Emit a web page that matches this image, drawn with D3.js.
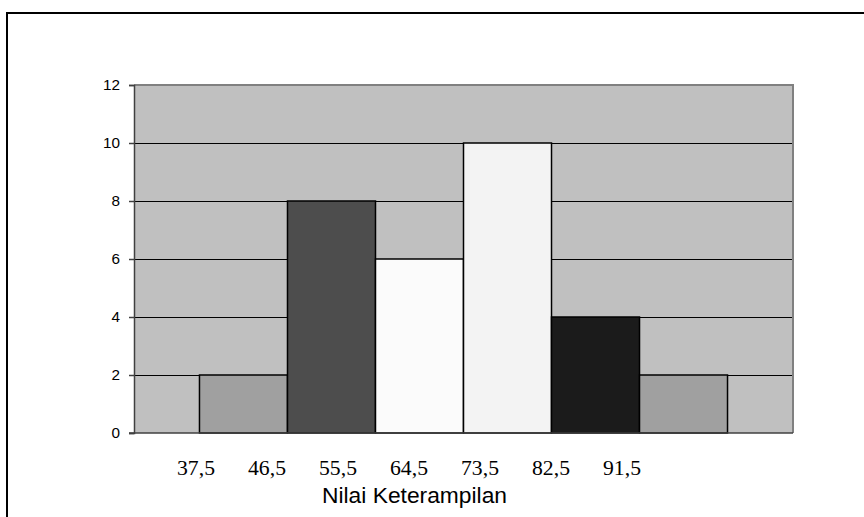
<!DOCTYPE html>
<html>
<head>
<meta charset="utf-8">
<script src="https://cdn.jsdelivr.net/npm/d3@7"></script>
<style>
  html, body { margin: 0; padding: 0; background: #fff; }
  svg { display: block; }
</style>
</head>
<body>
<svg id="chart" width="864" height="517"></svg>
<script>
// Frequency of skill scores per class interval
const classes = ["33-41", "42-50", "51-59", "60-68", "69-77", "78-86"];
const frequencies = [2, 8, 6, 10, 4, 2];
const barColors = ["#a0a0a0", "#4d4d4d", "#fbfbfb", "#f3f3f3", "#1b1b1b", "#a0a0a0"];
const boundaryLabels = [37.5, 46.5, 55.5, 64.5, 73.5, 82.5, 91.5];
const yTicks = [0, 2, 4, 6, 8, 10, 12];
const xTitle = "Nilai Keterampilan";

const svg = d3.select("#chart");
const plot = { left: 134, right: 793, top: 85, bottom: 433 };

// Outer frame (runs past the right and bottom edges)
svg.append("rect")
  .attr("x", 7).attr("y", 13)
  .attr("width", 900).attr("height", 600)
  .attr("fill", "#fff")
  .attr("stroke", "#000").attr("stroke-width", 2);

const x = d3.scaleBand()
  .domain(classes)
  .range([plot.left, plot.right])
  .paddingInner(0)
  .paddingOuter(0.744);

const y = d3.scaleLinear()
  .domain([0, 12])
  .range([plot.bottom, plot.top]);

// Plot background
svg.append("rect")
  .attr("x", plot.left).attr("y", plot.top)
  .attr("width", plot.right - plot.left)
  .attr("height", plot.bottom - plot.top)
  .attr("fill", "#c0c0c0");

// Horizontal gridlines
svg.append("g")
  .selectAll("line")
  .data(yTicks.filter(t => t > 0 && t < 12))
  .join("line")
  .attr("x1", plot.left).attr("x2", plot.right)
  .attr("y1", d => y(d) + 0.5).attr("y2", d => y(d) + 0.5)
  .attr("stroke", "#000").attr("stroke-width", 1);

// Plot border: top and right in gray
svg.append("path")
  .attr("d", `M${plot.left},${plot.top} H${plot.right} V${plot.bottom}`)
  .attr("fill", "none")
  .attr("stroke", "#808080").attr("stroke-width", 2);

// Bars
svg.append("g")
  .selectAll("rect")
  .data(frequencies)
  .join("rect")
  .attr("x", (d, i) => x(classes[i]))
  .attr("y", d => y(d))
  .attr("width", x.bandwidth())
  .attr("height", d => y(0) - y(d))
  .attr("fill", (d, i) => barColors[i])
  .attr("stroke", "#000").attr("stroke-width", 1.5);

// Y axis
const yAxis = svg.append("g")
  .attr("transform", `translate(${plot.left},0)`)
  .call(d3.axisLeft(y).tickValues(yTicks).tickSize(5).tickPadding(9).tickFormat(d3.format("d")));
yAxis.attr("font-size", null).attr("font-family", null);
yAxis.select(".domain").attr("stroke", "#404040").attr("stroke-width", 1.5);
yAxis.selectAll(".tick line").attr("stroke", "#404040").attr("stroke-width", 1.5);
yAxis.selectAll(".tick text")
  .style("font-family", "'Liberation Sans', Arial, sans-serif")
  .style("font-size", "15.3px")
  .attr("fill", "#000");

// Bottom axis line
svg.append("line")
  .attr("x1", plot.left - 5).attr("x2", plot.right)
  .attr("y1", plot.bottom).attr("y2", plot.bottom)
  .attr("stroke", "#404040").attr("stroke-width", 1.5);

// Class boundary labels
const xLabel = d3.scaleLinear()
  .domain([boundaryLabels[0], boundaryLabels[boundaryLabels.length - 1]])
  .range([196, 622]);

svg.append("g")
  .selectAll("text")
  .data(boundaryLabels)
  .join("text")
  .attr("x", d => xLabel(d))
  .attr("y", 475)
  .attr("text-anchor", "middle")
  .style("font-family", "'Liberation Serif', 'Times New Roman', serif")
  .style("font-size", "21.7px")
  .attr("fill", "#000")
  .text(d => d3.format(".1f")(d).replace(".", ","));

// Axis title
svg.append("text")
  .attr("x", 414.5)
  .attr("y", 503)
  .attr("text-anchor", "middle")
  .style("font-family", "'Liberation Sans', Arial, sans-serif")
  .style("font-size", "22.8px")
  .attr("fill", "#000")
  .text(xTitle);
</script>
</body>
</html>
